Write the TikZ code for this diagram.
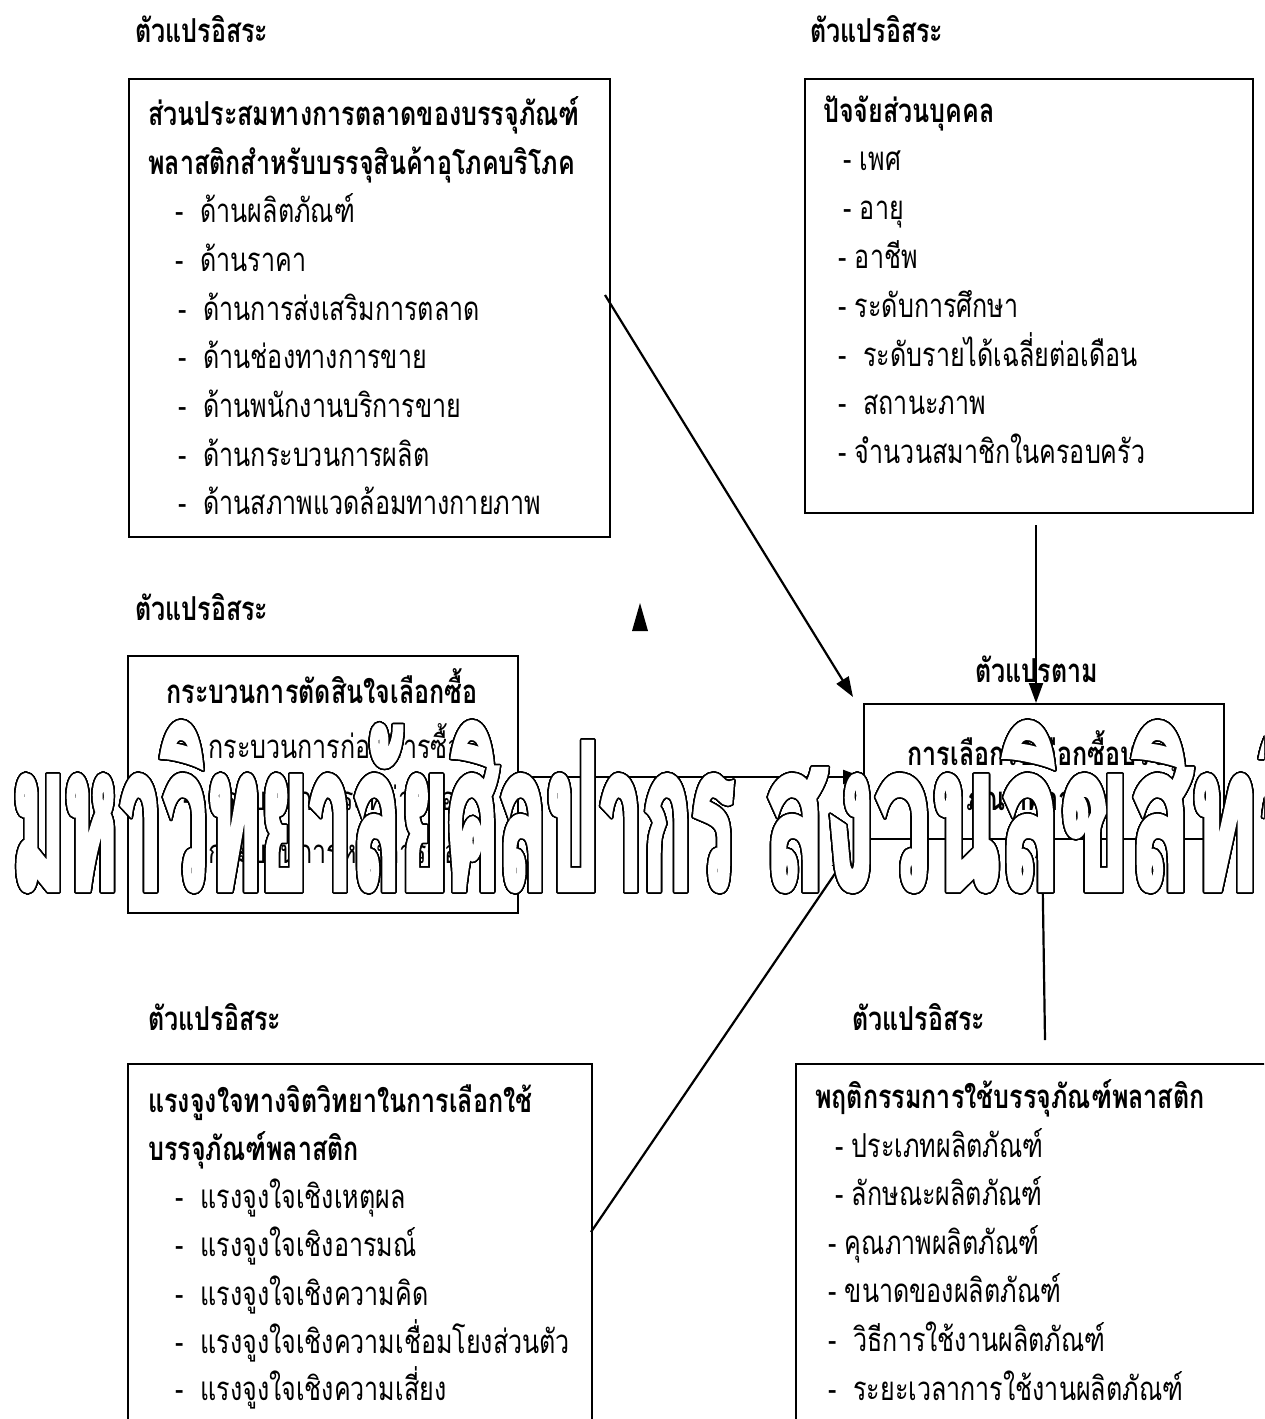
\documentclass[tikz,border=0pt]{standalone}
\usepackage{fontspec}
\usepackage{contour}
\usetikzlibrary{arrows.meta}
\newfontfamily\thai[Script=Thai,FakeStretch=0.76]{Loma}
\newfontfamily\wmfont[Script=Thai,FakeStretch=0.39,FakeBold=2]{Loma}
\newfontfamily\wmfontb[Script=Thai,FakeStretch=0.49,FakeBold=2]{Loma}
\contourlength{1.5pt}
\contournumber{40}
\tikzset{
  txt/.style={anchor=base west, inner sep=0pt, font=\thai\fontsize{33}{40}\selectfont},
  hd/.style={anchor=base west, inner sep=0pt, font=\thai\bfseries\fontsize{33}{40}\selectfont},
  hdc/.style={anchor=base, inner sep=0pt, font=\thai\bfseries\fontsize{33}{40}\selectfont},
  box/.style={draw, line width=2pt, inner sep=0pt, anchor=north west},
  conn/.style={line width=2.2pt, -{Triangle[length=20pt,width=14pt]}},
}
\begin{document}
\begin{tikzpicture}[x=1pt,y=-1pt]
\clip (0,0) rectangle (1264,1419);
\fill[white] (0,0) rectangle (1264,1419);
% boxes
\node[box, minimum width=481pt, minimum height=458pt] (b1) at (128,78) {};
\node[box, minimum width=448pt, minimum height=434pt] (b2) at (804,78) {};
\node[box, minimum width=390pt, minimum height=257pt] (b3) at (127,655) {};
\node[box, minimum width=360pt, minimum height=135pt] (bc) at (863,703) {};
\node[box, minimum width=464pt, minimum height=400pt] (b4) at (127,1063) {};
\node[box, minimum width=520pt, minimum height=400pt] (b5) at (795,1063) {};
% labels
\node[hd] (l1) at (135,42) {ตัวแปรอิสระ};
\node[hd] (l2) at (810,42) {ตัวแปรอิสระ};
\node[hd] (l3) at (135,620) {ตัวแปรอิสระ};
\node[hd] (l4) at (975,682) {ตัวแปรตาม};
\node[hd] (l5) at (148,1030) {ตัวแปรอิสระ};
\node[hd] (l6) at (852,1030) {ตัวแปรอิสระ};
% box 1
\node[hd] (t1a) at (148,125) {ส่วนประสมทางการตลาดของบรรจุภัณฑ์};
\node[hd] (t1b) at (148,174) {พลาสติกสำหรับบรรจุสินค้าอุโภคบริโภค};
\node[txt] (i11) at (175,222) {-\ \ ด้านผลิตภัณฑ์};
\node[txt] (i12) at (175,271) {-\ \ ด้านราคา};
\node[txt] (i13) at (178,320) {-\ \ ด้านการส่งเสริมการตลาด};
\node[txt] (i14) at (178,368) {-\ \ ด้านช่องทางการขาย};
\node[txt] (i15) at (178,417) {-\ \ ด้านพนักงานบริการขาย};
\node[txt] (i16) at (178,466) {-\ \ ด้านกระบวนการผลิต};
\node[txt] (i17) at (178,514) {-\ \ ด้านสภาพแวดล้อมทางกายภาพ};
% box 2
\node[hd] (t2) at (823,122) {ปัจจัยส่วนบุคคล};
\node[txt] (i21) at (843,170) {- เพศ};
\node[txt] (i22) at (843,219) {- อายุ};
\node[txt] (i23) at (838,268) {- อาชีพ};
\node[txt] (i24) at (838,317) {- ระดับการศึกษา};
\node[txt] (i25) at (838,366) {-\ \ ระดับรายได้เฉลี่ยต่อเดือน};
\node[txt] (i26) at (838,414) {-\ \ สถานะภาพ};
\node[txt] (i27) at (838,463) {- จำนวนสมาชิกในครอบครัว};
% box 3
\node[hdc] (t3) at (322,703) {กระบวนการตัดสินใจเลือกซื้อ};
\node[txt] (i31) at (183,758) {-\ \ กระบวนการก่อนการซื้อ};
\node[txt] (i32) at (183,810) {-\ \ กระบวนการระหว่างซื้อ};
\node[txt] (i33) at (183,863) {-\ \ กระบวนการหลังการซื้อ};
% centre box
\node[hdc] (tca) at (1043,765) {การเลือกใช้เลือกซื้อบรรจุ};
\node[hdc] (tcb) at (1043,810) {ภัณฑ์พลาสติก};
% box 4
\node[hd] (t4a) at (148,1112) {แรงจูงใจทางจิตวิทยาในการเลือกใช้};
\node[hd] (t4b) at (148,1160) {บรรจุภัณฑ์พลาสติก};
\node[txt] (i41) at (175,1208) {-\ \ แรงจูงใจเชิงเหตุผล};
\node[txt] (i42) at (175,1256) {-\ \ แรงจูงใจเชิงอารมณ์};
\node[txt] (i43) at (175,1305) {-\ \ แรงจูงใจเชิงความคิด};
\node[txt] (i44) at (175,1353) {-\ \ แรงจูงใจเชิงความเชื่อมโยงส่วนตัว};
\node[txt] (i45) at (175,1400) {-\ \ แรงจูงใจเชิงความเสี่ยง};
% box 5
\node[hd] (t5) at (815,1108) {พฤติกรรมการใช้บรรจุภัณฑ์พลาสติก};
\node[txt] (i51) at (835,1157) {- ประเภทผลิตภัณฑ์};
\node[txt] (i52) at (835,1205) {- ลักษณะผลิตภัณฑ์};
\node[txt] (i53) at (828,1254) {- คุณภาพผลิตภัณฑ์};
\node[txt] (i54) at (828,1302) {- ขนาดของผลิตภัณฑ์};
\node[txt] (i55) at (828,1351) {-\ \ วิธีการใช้งานผลิตภัณฑ์};
\node[txt] (i56) at (828,1400) {-\ \ ระยะเวลาการใช้งานผลิตภัณฑ์};
% connector ends
\coordinate (s1) at (605,295);
\coordinate (e1) at (853,697);
\coordinate (s2) at (1036,525);
\coordinate (e2) at (1036,703);
\coordinate (s3) at (517,777);
\coordinate (e3) at (863,777);
\coordinate (s4) at (591,1232);
\coordinate (e4) at (849,853);
\coordinate (s5) at (1045,1040);
\coordinate (e5) at (1042,838);
\draw[conn] (s1) -- (e1);
\draw[conn] (s2) -- (e2);
\draw[conn] (s3) -- (e3);
\draw[conn] (s4) -- (e4);
\draw[conn] (s5) -- (e5);
% stray arrow head
\fill (640,603) -- (648,631) -- (632,631) -- cycle;
% watermark
\node[anchor=base west, inner sep=0pt, font=\fontsize{205}{205}\selectfont] (wm) at (12,890) {\textcolor{white}{\contour{black}{\wmfont\bfseries มหาวิทยาลัยศิลปากร\hspace{30pt}\wmfontb\bfseries สงวนลิขสิทธิ์}}};
\end{tikzpicture}
\end{document}
